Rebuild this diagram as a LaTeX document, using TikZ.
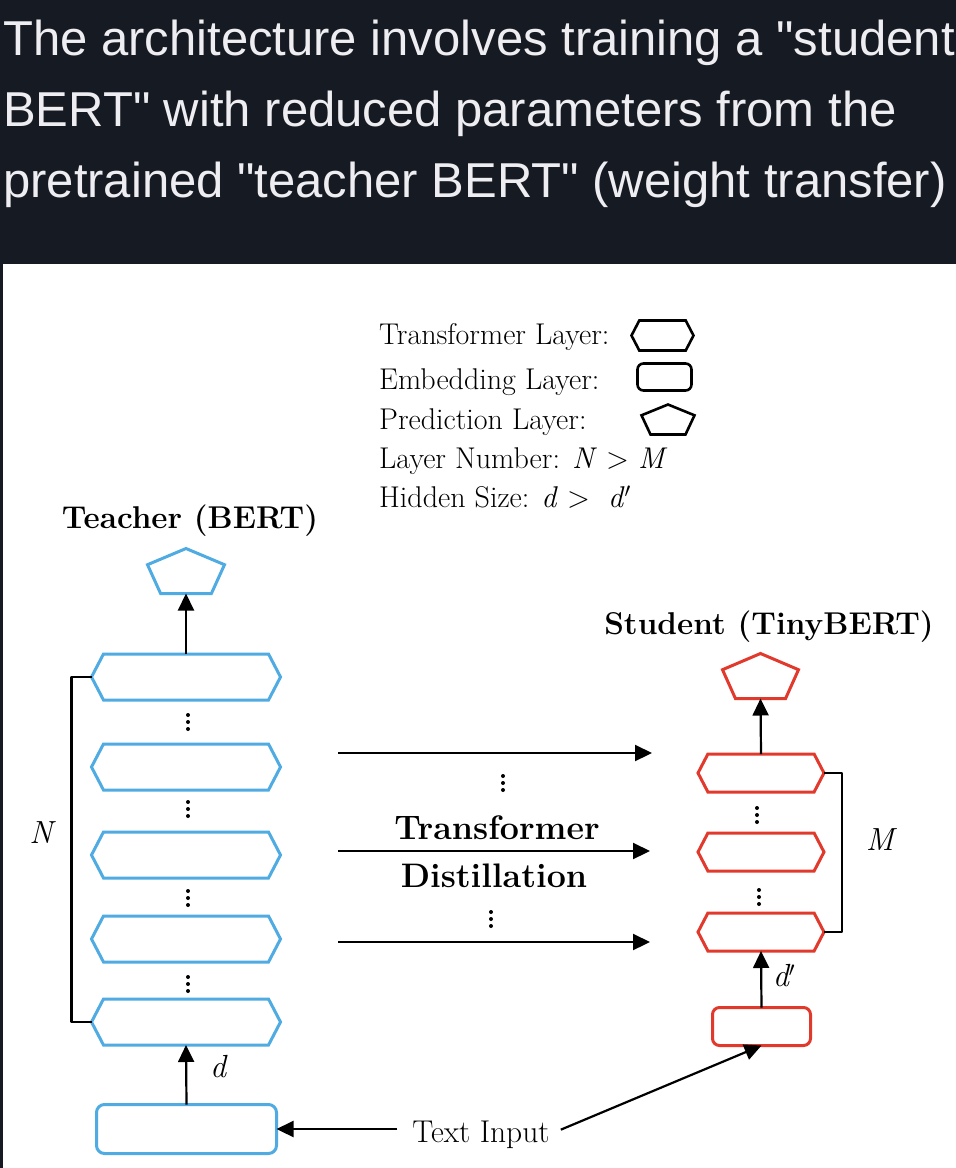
\documentclass[tikz,border=0pt]{standalone}
\usepackage{fontspec}
\newfontfamily\hdrfont{Liberation Sans}
\usetikzlibrary{arrows.meta,shapes.symbols,calc}
\definecolor{hdrbg}{HTML}{161A22}
\definecolor{hdrfg}{HTML}{EEEEF2}
\definecolor{tblue}{HTML}{4FABE2}
\definecolor{sred}{HTML}{E2392D}
\tikzset{
  hexlayer/.style={shape=signal, signal to=east and west, signal pointer angle=125, draw, line width=3pt, inner sep=0pt, outer sep=0pt},
  emblayer/.style={rectangle, rounded corners=8pt, draw, line width=3pt, inner sep=0pt, outer sep=0pt},
  predlayer/.style={rectangle, inner sep=0pt, outer sep=0pt},
  teacher/.style={draw=tblue, line width=3pt},
  student/.style={draw=sred, line width=3pt},
  legendshape/.style={draw=black, line width=2.6pt},
  flow/.style={line width=2.2pt, -{Triangle[length=17pt,width=16pt]}},
  brace/.style={line width=2.5pt, line join=round},
  lbl/.style={font=\fontsize{30}{35}\selectfont, inner sep=0pt, anchor=base},
  inlbl/.style={font=\fontsize{31.5}{36}\selectfont, inner sep=0pt, anchor=base},
  sym/.style={font=\itshape\fontsize{32}{36}\selectfont, inner sep=0pt, anchor=base},
  ttl/.style={font=\bfseries\fontsize{31.5}{36}\selectfont, inner sep=0pt, anchor=base},
  mid/.style={font=\bfseries\fontsize{34}{38}\selectfont, inner sep=0pt, anchor=base},
  hdr/.style={font=\hdrfont\fontsize{49}{58}\selectfont, text=hdrfg, inner sep=0pt, anchor=base west},
}
\newcommand\drawpent[2]{\draw[#2] (#1.north) -- ($(#1.north west)!.36!(#1.south west)$) -- ($(#1.south west)!.17!(#1.south east)$) -- ($(#1.south west)!.83!(#1.south east)$) -- ($(#1.north east)!.36!(#1.south east)$) -- cycle;}
\newcommand\vdotsat[2]{\fill (#1,#2-7) circle[radius=2pt] (#1,#2) circle[radius=2pt] (#1,#2+7) circle[radius=2pt];}
\begin{document}
\begin{tikzpicture}[x=1pt,y=-1pt]
\useasboundingbox (0,0) rectangle (956,1168);
\fill[white] (0,0) rectangle (956,1168);
% header
\fill[hdrbg] (0,0) rectangle (956,264);
\fill[hdrbg] (0,264) rectangle (3,1168);
\begin{scope}
\clip (0,0) rectangle (956,264);
\node[hdr] (h1) at (3,55) {The architecture involves training a "student};
\node[hdr] (h2) at (3,126) {BERT" with reduced parameters from the};
\node[hdr] (h3) at (3,197) {pretrained "teacher BERT" (weight transfer)};
\end{scope}
% legend
\node[lbl, anchor=base west] (lg1) at (379,344) {Transformer Layer:};
\node[lbl, anchor=base west] (lg2) at (379,389) {Embedding Layer:};
\node[lbl, anchor=base west] (lg3) at (379,429) {Prediction Layer:};
\node[lbl, anchor=base west] (lg4) at (379,468) {Layer Number: \textit{N} > \textit{M}};
\node[lbl, anchor=base west] (lg5) at (379,507) {Hidden Size: \textit{d} >~ \textit{d}$'$};
\node[hexlayer, legendshape, minimum width=62pt, minimum height=30pt] (lh) at (662.5,335.5) {};
\node[emblayer, legendshape, rounded corners=6pt, minimum width=54pt, minimum height=27pt] (le) at (664.5,377) {};
\node[predlayer, minimum width=53pt, minimum height=30pt] (lp) at (668,419.5) {};
\drawpent{lp}{legendshape}
% teacher
\node[ttl] (tt) at (190,528) {Teacher (BERT)};
\node[predlayer, minimum width=77pt, minimum height=45pt] (tp) at (186,571) {};
\drawpent{tp}{teacher}
\foreach \n/\y in {t1/677,t2/767,t3/855,t4/939,t5/1022}
  \node[hexlayer, teacher, minimum width=189pt, minimum height=46pt] (\n) at (186,\y) {};
\node[emblayer, teacher, minimum width=180pt, minimum height=49pt] (te) at (186.5,1129) {};
\draw[flow] (t1.north) -- (tp.south);
\draw[flow] (te.north) -- (t5.south);
\vdotsat{188}{722}
\vdotsat{188}{809}
\vdotsat{188}{898}
\vdotsat{188}{984}
\draw[brace] (t1.west) -- ++(-20,0) |- (t5.west);
\node[sym] (nl) at (41,843) {N};
\node[sym] (dl) at (218,1077) {d};
% student
\node[ttl] (st) at (769,634) {Student (TinyBERT)};
\node[predlayer, minimum width=76pt, minimum height=45pt] (sp) at (760.5,676) {};
\drawpent{sp}{student}
\foreach \n/\y in {s1/773,s2/852,s3/932}
  \node[hexlayer, student, minimum width=126pt, minimum height=38pt] (\n) at (761,\y) {};
\node[emblayer, student, rounded corners=7pt, minimum width=98pt, minimum height=38pt] (se) at (761.5,1026.5) {};
\draw[flow] (s1.north) -- (sp.south);
\draw[flow] (se.north) -- (s3.south);
\vdotsat{757}{815}
\vdotsat{759}{897}
\draw[brace] (s1.east) -- ++(18,0) |- (s3.east);
\node[sym] (ml) at (880,850) {M};
\node[sym] (dpl) at (784,986) {d$'$};
% distillation
\coordinate (da1) at (338,753); \coordinate (db1) at (652,753);
\coordinate (da2) at (338,851); \coordinate (db2) at (650,851);
\coordinate (da3) at (338,942); \coordinate (db3) at (650,942);
\draw[flow] (da1) -- (db1);
\draw[flow] (da2) -- (db2);
\draw[flow] (da3) -- (db3);
\vdotsat{503}{783}
\vdotsat{491}{919}
\node[mid] (tr) at (497,839) {Transformer};
\node[mid] (ds) at (494,887) {Distillation};
% text input
\node[inlbl] (ti) at (481,1142) {Text Input};
\draw[flow, shorten <=15pt] (ti.west |- te.east) -- (te.east);
\draw[flow, shorten <=12pt] (ti.east) -- (se.south);
\end{tikzpicture}
\end{document}
